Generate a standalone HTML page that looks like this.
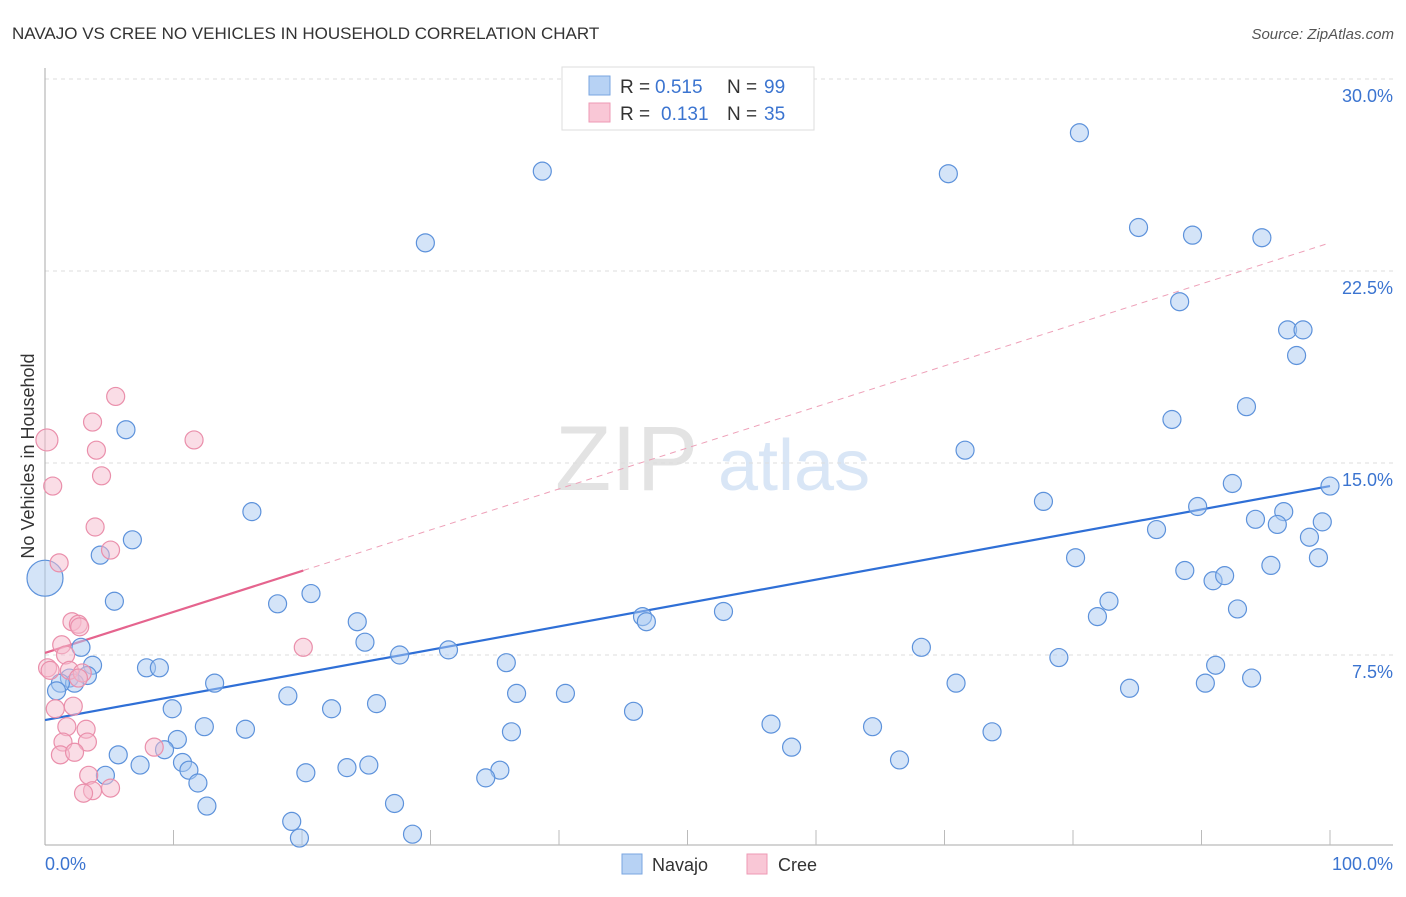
<!DOCTYPE html>
<html><head><meta charset="utf-8"><style>
body{margin:0;background:#fff;font-family:"Liberation Sans",sans-serif}
svg text{font-family:"Liberation Sans",sans-serif}
</style></head><body>
<svg id="chart" width="1406" height="892">
<text x="12" y="39" font-size="17" fill="#333">NAVAJO VS CREE NO VEHICLES IN HOUSEHOLD CORRELATION CHART</text>
<text x="1394" y="39" font-size="15" fill="#555" font-style="italic" text-anchor="end">Source: ZipAtlas.com</text>
<text transform="translate(34,456) rotate(-90)" font-size="18" fill="#333" text-anchor="middle">No Vehicles in Household</text>
<g>
<text x="555" y="490" font-size="92" fill="#e3e3e3" font-family="Liberation Serif,serif">ZIP</text>
<text x="718" y="490" font-size="72" fill="#d9e6f6">atlas</text>
</g>
<g id="grid"></g><g id="axes"></g><g id="lines"></g><g id="points"></g>
<g>
<rect x="562" y="67" width="252" height="63" fill="#fff" stroke="#ddd"/>
<rect x="589" y="76" width="21" height="19" fill="#b7d2f4" stroke="#7aa6e0"/>
<text x="620" y="93" font-size="19" fill="#333">R = </text><text x="655" y="93" font-size="19" fill="#3b74d0">0.515</text>
<text x="727" y="93" font-size="19" fill="#333">N = </text><text x="764" y="93" font-size="19" fill="#3b74d0">99</text>
<rect x="589" y="103" width="21" height="19" fill="#f9c7d6" stroke="#ee9ab4"/>
<text x="620" y="120" font-size="19" fill="#333">R = </text><text x="661" y="120" font-size="19" fill="#3b74d0">0.131</text>
<text x="727" y="120" font-size="19" fill="#333">N = </text><text x="764" y="120" font-size="19" fill="#3b74d0">35</text>
</g>
<g>
<rect x="622" y="854" width="20" height="20" fill="#b7d2f4" stroke="#7aa6e0"/>
<text x="652" y="871" font-size="18" fill="#333">Navajo</text>
<rect x="747" y="854" width="20" height="20" fill="#f9c7d6" stroke="#ee9ab4"/>
<text x="778" y="871" font-size="18" fill="#333">Cree</text>
</g>
<text x="45" y="870" font-size="18" fill="#3b74d0">0.0%</text>
<text x="1393" y="870" font-size="18" fill="#3b74d0" text-anchor="end">100.0%</text>
</svg>
<script>
const yTicks=[7.5,15,22.5,30];
const yTickLabels=["7.5%","15.0%","22.5%","30.0%"];
const navajoX=[38.7,29.6,70.3,80.5,85.1,89.3,94.7,88.3,96.7,97.9,97.4,87.7,93.5,71.6,6.3,16.1,6.8,4.3,77.7,92.4,100,89.7,96.4,94.2,95.9,99.4,86.5,98.4,80.2,99.1,95.4,88.7,90.9,91.8,82.8,5.4,20.7,18.1,81.9,92.8,46.5,46.8,52.8,24.3,2.8,24.9,31.4,27.6,68.2,78.9,3.7,7.9,8.9,35.9,91.1,93.9,3.3,1.9,13.2,70.9,90.3,2.3,1.2,0.9,84.4,18.9,36.7,40.5,25.8,9.9,22.3,45.8,12.4,15.6,36.3,56.5,64.4,73.7,10.3,9.3,5.7,58.1,10.7,7.4,11.2,23.5,25.2,20.3,35.4,34.3,4.7,11.9,66.5,27.2,12.6,19.2,28.6,19.8,0];
const navajoY=[26.4,23.6,26.3,27.9,24.2,23.9,23.8,21.3,20.2,20.2,19.2,16.7,17.2,15.5,16.3,13.1,12.0,11.4,13.5,14.2,14.1,13.3,13.1,12.8,12.6,12.7,12.4,12.1,11.3,11.3,11.0,10.8,10.4,10.6,9.6,9.6,9.9,9.5,9.0,9.3,9.0,8.8,9.2,8.8,7.8,8.0,7.7,7.5,7.8,7.4,7.1,7.0,7.0,7.2,7.1,6.6,6.7,6.6,6.4,6.4,6.4,6.4,6.4,6.1,6.2,5.9,6.0,6.0,5.6,5.4,5.4,5.3,4.7,4.6,4.5,4.8,4.7,4.5,4.2,3.8,3.6,3.9,3.3,3.2,3.0,3.1,3.2,2.9,3.0,2.7,2.8,2.5,3.4,1.7,1.6,1.0,0.5,0.35,10.5];
const creeX=[5.5,3.7,0.15,11.6,4.0,4.4,0.6,3.9,1.1,5.1,2.1,2.6,2.7,1.3,1.6,20.1,0.2,1.9,2.9,2.6,0.4,0.8,2.2,1.7,3.2,1.4,3.3,8.5,1.2,2.3,3.4,3.7,5.1,3.0];
const creeY=[17.6,16.6,15.9,15.9,15.5,14.5,14.1,12.5,11.1,11.6,8.8,8.7,8.6,7.9,7.5,7.8,7.0,6.9,6.8,6.6,6.9,5.4,5.5,4.7,4.6,4.1,4.1,3.9,3.6,3.7,2.8,2.2,2.3,2.1];
const navajoTrend=[4.96,14.1];
const creeTrend=[7.58,23.6];
const creeSolidEnd=20.1;
const NS="http://www.w3.org/2000/svg";
function sx(v){return 45+v*12.85;}
function sy(v){return 847-v*25.6;}
function mk(t,a,p){const e=document.createElementNS(NS,t);for(const k in a)e.setAttribute(k,a[k]);p.appendChild(e);return e;}
const grid=document.getElementById('grid'),axes=document.getElementById('axes'),lines=document.getElementById('lines'),pts=document.getElementById('points');
yTicks.forEach((t,i)=>{
 const l=mk('line',{x1:45,x2:1393,y1:sy(t),y2:sy(t),stroke:'#ddd','stroke-dasharray':'4,4'},grid);
 
 
 const tx=mk('text',{x:1393,y:sy(t)+23,'font-size':18,fill:'#3b74d0','text-anchor':'end'},grid);
 tx.textContent=yTickLabels[i];
 
 
});
let a=mk('line',{x1:45,x2:45,y1:68,y2:845,stroke:'#aaa'},axes);


a=mk('line',{x1:45,x2:1393,y1:845,y2:845,stroke:'#aaa'},axes);


for(let i=1;i<=10;i++){
 const t=mk('line',{x1:sx(i*10),x2:sx(i*10),y1:830,y2:845,stroke:'#bbb'},axes);
 
 
}
function dot(x,y,r,fill,stroke,name){
 const c=mk('circle',{cx:sx(x),cy:sy(y),r:r,fill:fill,'fill-opacity':0.5,stroke:stroke,'stroke-width':1.2},pts);
 
 
}
navajoX.forEach((x,i)=>dot(x,navajoY[i],i===navajoX.length-1?18:9,'#a9c9f2','#5d92db','navajo-point'));
creeX.forEach((x,i)=>dot(x,creeY[i],i===2?11:9,'#f6bccd','#ea8fab','cree-point'));
let l=mk('line',{x1:sx(0),y1:sy(navajoTrend[0]),x2:sx(100),y2:sy(navajoTrend[1]),stroke:'#2f6fd6','stroke-width':2.2},lines);


const cy=v=>creeTrend[0]+(creeTrend[1]-creeTrend[0])*v/100;
l=mk('line',{x1:sx(creeSolidEnd),y1:sy(cy(creeSolidEnd)),x2:sx(100),y2:sy(cy(100)),stroke:'#eea0b8','stroke-width':1,'stroke-dasharray':'6,5'},lines);


l=mk('line',{x1:sx(0),y1:sy(cy(0)),x2:sx(creeSolidEnd),y2:sy(cy(creeSolidEnd)),stroke:'#e5648e','stroke-width':2.2},lines);


</script>
</body></html>
